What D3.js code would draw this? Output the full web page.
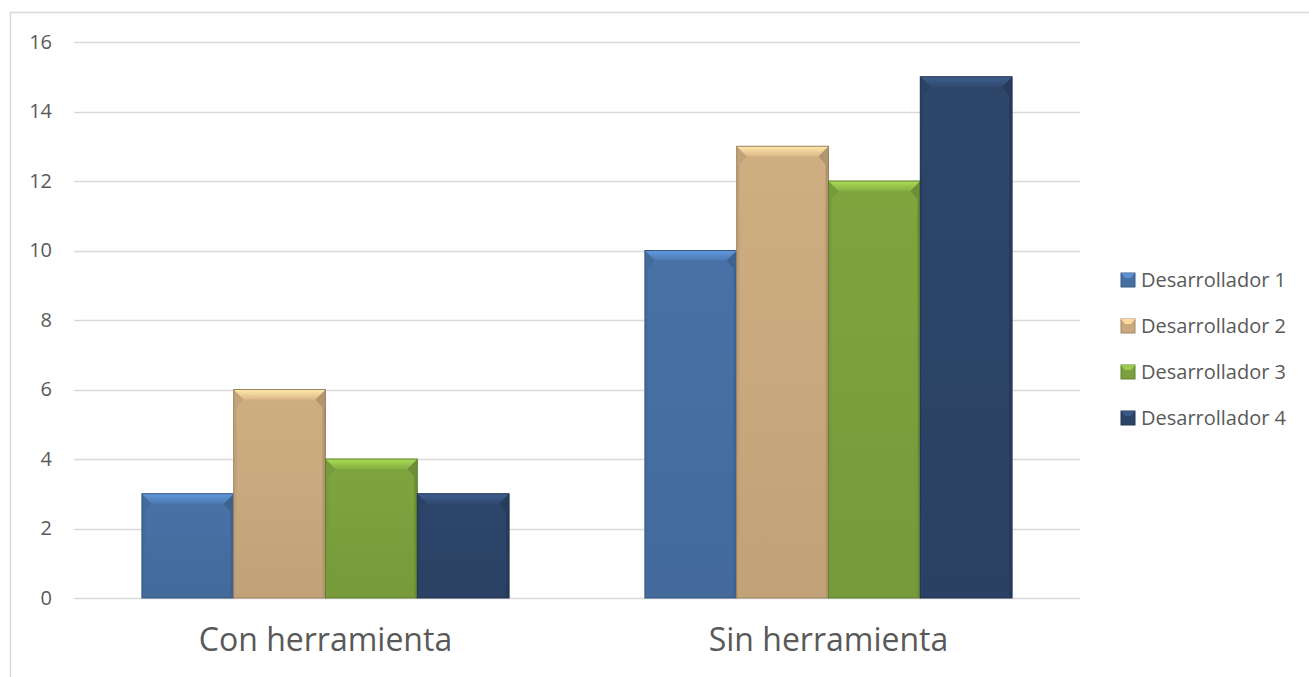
<!DOCTYPE html>
<html>
<head>
<script src="https://cdnjs.cloudflare.com/ajax/libs/d3/7.8.5/d3.min.js"></script>
<style>
  body { margin: 0; background: #fff; }
  svg { display: block; }
  text { font-family: "Open Sans", "Liberation Sans", sans-serif; fill: #595959; }
</style>
</head>
<body>
<svg id="chart" width="1309" height="677"></svg>
<script>
// data
var categories = ["Con herramienta", "Sin herramienta"];
var seriesNames = ["Desarrollador 1", "Desarrollador 2", "Desarrollador 3", "Desarrollador 4"];
var dev1 = [3, 10];
var dev2 = [6, 13];
var dev3 = [4, 12];
var dev4 = [3, 15];
var yTicks = [0, 2, 4, 6, 8, 10, 12, 14, 16];
var colors = ["#466fa2", "#c9a97d", "#7ba03d", "#2c4467"];

var seriesValues = [dev1, dev2, dev3, dev4];

var svg = d3.select("#chart");

// outer chart frame
svg.append("rect")
    .attr("x", 10.5).attr("y", 12.5)
    .attr("width", 1320).attr("height", 700)
    .attr("fill", "none").attr("stroke", "#d9d9d9").attr("stroke-width", 1.5);

var plotL = 74, plotR = 1080, plotT = 42, plotB = 598;

var y = d3.scaleLinear().domain([0, 16]).range([plotB, plotT]);
var x0 = d3.scaleBand().domain(categories).range([plotL, plotR]).paddingInner(0).paddingOuter(0);
var x1 = d3.scaleBand().domain(seriesNames).range([0, x0.bandwidth()]).paddingInner(0).paddingOuter(0.74);

// gradients
var defs = svg.append("defs");
colors.forEach(function (c, i) {
    var gv = defs.append("linearGradient").attr("id", "shade" + i)
        .attr("x1", 0).attr("x2", 0).attr("y1", 0).attr("y2", 1);
    gv.append("stop").attr("offset", "0%").attr("stop-color", d3.color(c).brighter(0.08));
    gv.append("stop").attr("offset", "100%").attr("stop-color", d3.color(c).darker(0.12));
    var gt = defs.append("linearGradient").attr("id", "top" + i)
        .attr("x1", 0).attr("x2", 0).attr("y1", 0).attr("y2", 1);
    gt.append("stop").attr("offset", "0%").attr("stop-color", d3.color(c).brighter(0.9));
    gt.append("stop").attr("offset", "100%").attr("stop-color", d3.color(c).brighter(0.25));
});

// grid
svg.append("g").selectAll("line").data(yTicks).enter().append("line")
    .attr("x1", plotL).attr("x2", plotR)
    .attr("y1", function (d) { return Math.round(y(d)) + 0.5; })
    .attr("y2", function (d) { return Math.round(y(d)) + 0.5; })
    .attr("stroke", "#d9d9d9").attr("stroke-width", 1.5);

// y axis labels
var yAxis = d3.axisLeft(y).tickValues(yTicks).tickSize(0).tickPadding(0);
var ga = svg.append("g").attr("transform", "translate(52,0)").call(yAxis);
ga.select(".domain").remove();
ga.selectAll("text").attr("font-size", 20).style("font-family", "'Open Sans', sans-serif").attr("fill", "#595959");

// bars
var bev = 10, side = 3;
var groups = svg.append("g").selectAll("g").data(categories).enter().append("g")
    .attr("transform", function (d) { return "translate(" + x0(d) + ",0)"; });

groups.each(function (cat, ci) {
    var g = d3.select(this);
    seriesNames.forEach(function (s, si) {
        var v = seriesValues[si][ci];
        var bx = x1(s), bw = x1.bandwidth(), by = y(v), bh = plotB - y(v);
        var c = colors[si];
        g.append("rect").attr("x", bx).attr("y", by).attr("width", bw).attr("height", bh)
            .attr("fill", "url(#shade" + si + ")");
        // side bevels, thin
        g.append("polygon")
            .attr("points", [[bx, by], [bx + bev, by + bev], [bx + side, by + bev + 8], [bx + side, plotB], [bx, plotB]].join(" "))
            .attr("fill", d3.color(c).darker(0.1));
        g.append("polygon")
            .attr("points", [[bx + bw, by], [bx + bw - bev, by + bev], [bx + bw - side, by + bev + 8], [bx + bw - side, plotB], [bx + bw, plotB]].join(" "))
            .attr("fill", d3.color(c).darker(0.35));
        // top bevel
        g.append("polygon")
            .attr("points", [[bx, by], [bx + bw, by], [bx + bw - bev, by + bev], [bx + bev, by + bev]].join(" "))
            .attr("fill", "url(#top" + si + ")");
        g.append("rect").attr("x", bx).attr("y", by).attr("width", bw).attr("height", bh)
            .attr("fill", "none").attr("stroke", d3.color(c).darker(0.7)).attr("stroke-width", 1);
    });
});

// category labels
svg.append("g").selectAll("text").data(categories).enter().append("text")
    .attr("x", function (d) { return x0(d) + x0.bandwidth() / 2; })
    .attr("y", 651)
    .attr("text-anchor", "middle")
    .attr("font-size", 32)
    .text(function (d) { return d; });

// legend
var legend = svg.append("g").selectAll("g").data(seriesNames).enter().append("g")
    .attr("transform", function (d, i) { return "translate(1121," + (280 + i * 46) + ")"; });
legend.append("rect").attr("x", 0).attr("y", -7).attr("width", 14).attr("height", 14)
    .attr("fill", function (d, i) { return colors[i]; })
    .attr("stroke", function (d, i) { return d3.color(colors[i]).darker(0.6); });
legend.append("polygon")
    .attr("points", "0,-7 14,-7 10,-2 4,-2")
    .attr("fill", function (d, i) { return d3.color(colors[i]).brighter(0.7); });
legend.append("text").attr("x", 20).attr("y", 7).attr("font-size", 20)
    .text(function (d) { return d; });
</script>
</body>
</html>
